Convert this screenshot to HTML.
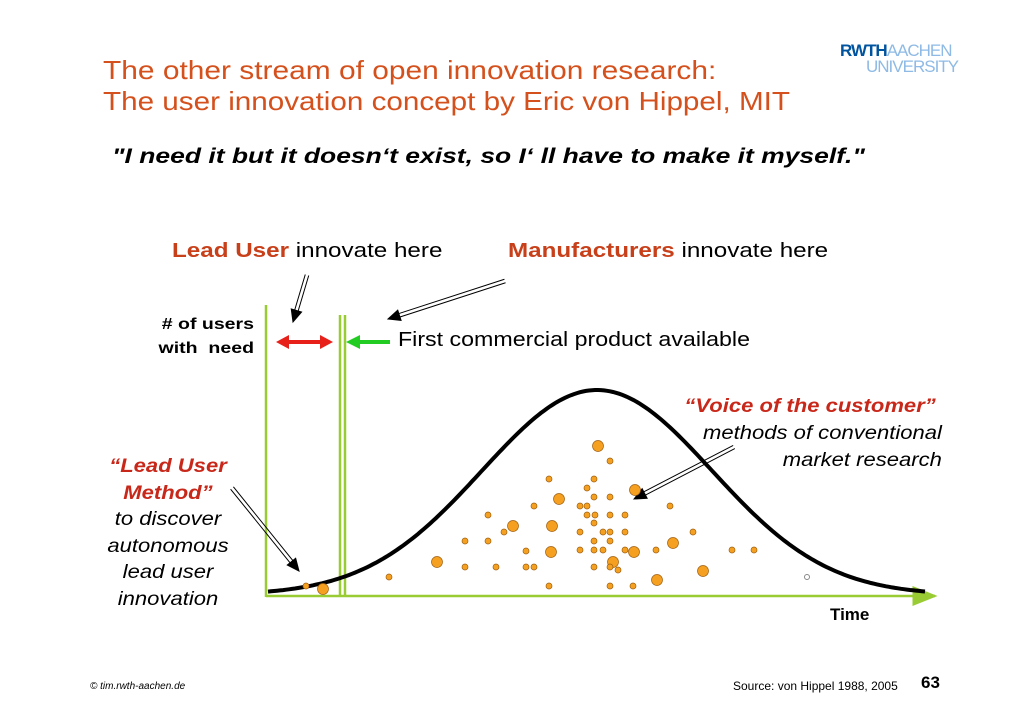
<!DOCTYPE html>
<html><head><meta charset="utf-8"><style>
body{margin:0;width:1030px;height:728px;background:#fff;overflow:hidden;font-family:"Liberation Sans",Arial,sans-serif;position:relative}
.t{position:absolute;white-space:nowrap;transform-origin:left top}
</style></head><body>
<div class="t" style="left:103px;top:55px;font-size:26px;color:#d4511d;transform:scaleX(1.15)">The other stream of open innovation research:</div>
<div class="t" style="left:103px;top:86px;font-size:26px;color:#d4511d;transform:scaleX(1.14)">The user innovation concept by Eric von Hippel, MIT</div>
<div class="t" style="left:840px;top:43px;line-height:16px;font-weight:bold;font-size:17px;letter-spacing:-1px">
<span style="color:#00549f">RWTH</span><span style="color:#8ebae5;font-weight:normal">AACHEN</span><br><span style="color:#8ebae5;font-weight:normal;margin-left:26px">UNIVERSITY</span></div>
<div class="t" style="left:112px;top:145px;font-size:21px;font-weight:bold;font-style:italic;transform:scaleX(1.26)">"I need it but it doesn‘t exist, so I‘ ll have to make it myself."</div>
<div class="t" style="left:172px;top:240px;font-size:20px;transform:scaleX(1.21)"><b style="color:#c8401a">Lead User</b> innovate here</div>
<div class="t" style="left:508px;top:240px;font-size:20px;transform:scaleX(1.21)"><b style="color:#c8401a">Manufacturers</b> innovate here</div>
<div class="t" style="left:150px;top:313px;width:104px;text-align:right;font-size:16px;font-weight:bold;line-height:24px;transform-origin:right top;transform:scaleX(1.22)"># of users<br>with&nbsp; need</div>
<div class="t" style="left:398px;top:329px;font-size:20px;transform:scaleX(1.16)">First commercial product available</div>
<div class="t" style="right:88px;top:393px;font-size:19.5px;text-align:right;font-style:italic;line-height:27px;transform-origin:right top;transform:scaleX(1.13)"><b style="color:#c8281a">“Voice of the customer”</b>&nbsp;<br>methods of conventional<br>market research</div>
<div class="t" style="left:98px;top:453px;width:140px;text-align:center;font-size:19.5px;font-style:italic;line-height:26.5px;transform-origin:center top;transform:scaleX(1.13)"><b style="color:#c8281a">“Lead User<br>Method”</b><br>to discover<br>autonomous<br>lead user<br>innovation</div>
<div class="t" style="left:830px;top:605px;font-size:17px;font-weight:bold">Time</div>
<div class="t" style="left:90px;top:681px;font-size:10px;font-style:italic">© tim.rwth-aachen.de</div>
<div class="t" style="left:733px;top:679px;font-size:12px">Source: von Hippel 1988, 2005</div>
<div class="t" style="left:921px;top:673px;font-size:17px;font-weight:bold">63</div>
<svg id="ch" width="1030" height="728" style="position:absolute;left:0;top:0">
<defs><marker id="ga" markerWidth="10" markerHeight="10" refX="9" refY="5" orient="auto"><path d="M0,1L10,5L0,9z" fill="#99cc33"/></marker></defs>
<line x1="266" y1="305" x2="266" y2="597" stroke="#99cc33" stroke-width="2.5"/>
<line x1="340" y1="315" x2="340" y2="597" stroke="#99cc33" stroke-width="2.5"/>
<line x1="345" y1="315" x2="345" y2="597" stroke="#99cc33" stroke-width="2.5"/>
<line x1="266" y1="596" x2="935" y2="596" stroke="#99cc33" stroke-width="2.5" marker-end="url(#ga)"/>
<g><line x1="285" y1="342" x2="324" y2="342" stroke="#e8201a" stroke-width="4"/><path d="M276,342L289,335L289,349z M333,342L320,335L320,349z" fill="#e8201a"/></g>
<g><line x1="358" y1="342" x2="390" y2="342" stroke="#22cc22" stroke-width="4"/><path d="M346,342L360,335L360,349z" fill="#22cc22"/></g>
<g id="arrows" fill="none" stroke="#000" stroke-width="1"></g>
<path id="curve" fill="none" stroke="#000" stroke-width="4"/>
<g id="dots"></g>
</svg>
<script>
const curveMean = 329, curveSigma = 115, curvePeak = 205;
const dotTime = [330,291,367,245,284,283,366,405,169,345,435,389,55,342,281,326,319,326,342,266,312,319,402,220,319,327,342,357,326,312,335,342,357,236,425,197,220,326,342,258,312,326,335,357,388,464,486,197,228,258,266,326,342,350,121,281,342,365,38];
const dotValue = [149,96,105,69,69,43,43,52,33,33,24,15,6,134,116,116,107,98,98,89,89,89,89,80,80,80,80,80,72,63,63,63,63,63,63,54,54,54,54,44,45,45,45,45,45,45,45,28,28,28,28,28,28,25,18,9,9,9,9];
const dotBig = [1,1,1,1,1,1,1,1,1,1,1,1,1,0,0,0,0,0,0,0,0,0,0,0,0,0,0,0,0,0,0,0,0,0,0,0,0,0,0,0,0,0,0,0,0,0,0,0,0,0,0,0,0,0,0,0,0,0,0];
const hollowTime = [539], hollowValue = [18];
const xS = t => 268 + t;
const yS = v => 595 - v;
const NS = 'http://www.w3.org/2000/svg';
let d = '';
for (let t = 0; t <= 657; t += 3) {
  const v = curvePeak * Math.exp(-Math.pow(t - curveMean, 2) / (2 * curveSigma * curveSigma));
  d += (t ? 'L' : 'M') + xS(t).toFixed(1) + ',' + yS(v).toFixed(1);
}
document.getElementById('curve').setAttribute('d', d);
const g = document.getElementById('dots');
dotTime.forEach((t, i) => {
  const c = document.createElementNS(NS, 'circle');
  c.setAttribute('cx', xS(t)); c.setAttribute('cy', yS(dotValue[i]));
  c.setAttribute('r', dotBig[i] ? 5.5 : 3);
  c.setAttribute('fill', '#f5a020'); c.setAttribute('stroke', '#a06010'); c.setAttribute('stroke-width', '0.7');
  
  
  g.appendChild(c);
});
hollowTime.forEach((t, i) => {
  const c = document.createElementNS(NS, 'circle');
  c.setAttribute('cx', xS(t)); c.setAttribute('cy', yS(hollowValue[i])); c.setAttribute('r', 2.5);
  c.setAttribute('fill', '#fff'); c.setAttribute('stroke', '#888');
  
  
  g.appendChild(c);
});
const ag = document.getElementById('arrows');
[[307,275,293,322],[505,281,388,319],[232,488,299,571],[734,447,634,499]].forEach(a => {
  const [x1,y1,x2,y2] = a, ang = Math.atan2(y2-y1, x2-x1), nx = -Math.sin(ang)*1.8, ny = Math.cos(ang)*1.8;
  const L = 12, hx = x2 - Math.cos(ang)*L, hy = y2 - Math.sin(ang)*L;
  const p = document.createElementNS(NS, 'path');
  p.setAttribute('d', `M${x1+nx},${y1+ny}L${hx+nx},${hy+ny}M${x1-nx},${y1-ny}L${hx-nx},${hy-ny}`);
  
  
  ag.appendChild(p);
  const h = document.createElementNS(NS, 'path');
  h.setAttribute('d', `M${x2},${y2}L${hx+nx*3},${hy+ny*3}L${hx-nx*3},${hy-ny*3}z`);
  h.setAttribute('fill', '#000');
  
  
  ag.appendChild(h);
});
</script>
</body></html>
